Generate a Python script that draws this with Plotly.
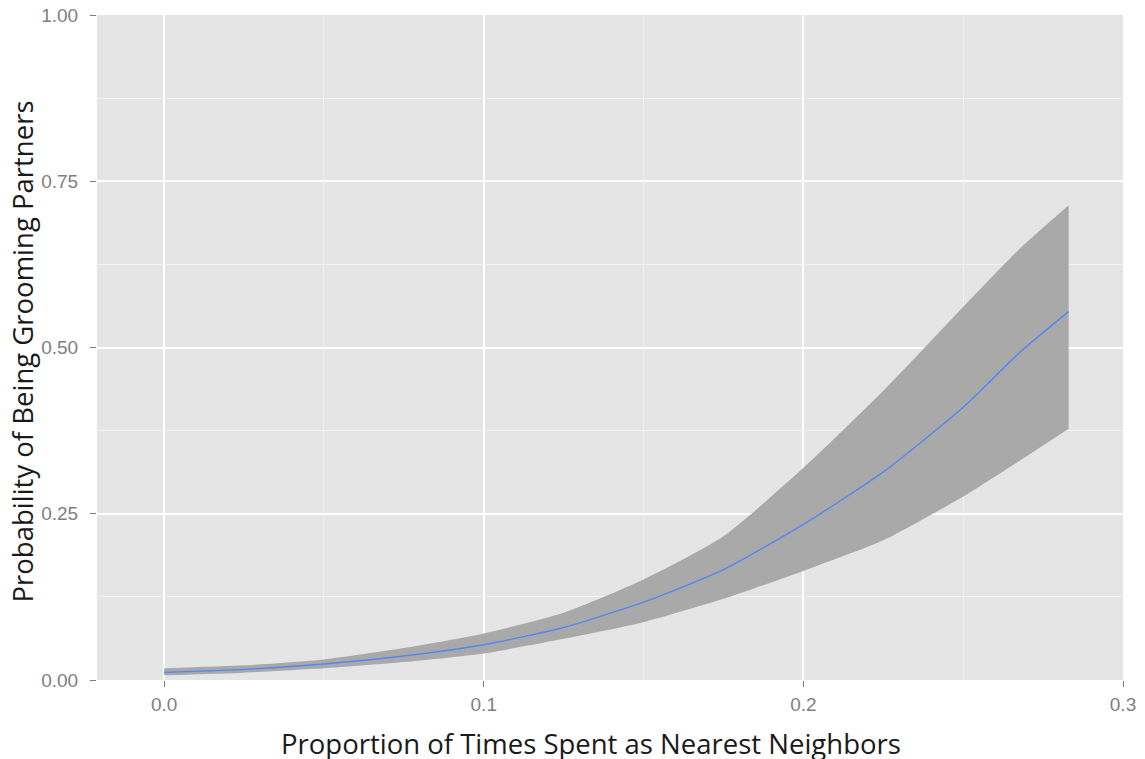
import plotly.graph_objects as go

# Data
prop_nn = [0, 0.025, 0.05, 0.075, 0.1, 0.125, 0.15, 0.175, 0.2, 0.225, 0.25, 0.268, 0.283]
fit = [0.0115, 0.016, 0.024, 0.036, 0.053, 0.079, 0.117, 0.166, 0.234, 0.313, 0.410, 0.494, 0.554]
upper = [0.0175, 0.022, 0.031, 0.048, 0.070, 0.101, 0.151, 0.216, 0.319, 0.435, 0.561, 0.650, 0.714]
lower = [0.007, 0.011, 0.0175, 0.027, 0.040, 0.062, 0.087, 0.122, 0.164, 0.210, 0.276, 0.331, 0.378]

x_ticks = [0.0, 0.1, 0.2, 0.3]
x_ticklabels = ["0.0", "0.1", "0.2", "0.3"]
y_ticks = [0.0, 0.25, 0.5, 0.75, 1.0]
y_ticklabels = ["0.00", "0.25", "0.50", "0.75", "1.00"]

x_title = "Proportion of Times Spent as Nearest Neighbors"
y_title = "Probability of Being Grooming Partners"

fig = go.Figure()
fig.add_trace(go.Scatter(x=prop_nn, y=lower, mode="lines", line=dict(width=0, shape="spline", smoothing=0.6),
                         hoverinfo="skip", showlegend=False))
fig.add_trace(go.Scatter(x=prop_nn, y=upper, mode="lines", line=dict(width=0, shape="spline", smoothing=0.6),
                         fill="tonexty", fillcolor="rgb(169,169,169)", hoverinfo="skip", showlegend=False))
fig.add_trace(go.Scatter(x=prop_nn, y=fit, mode="lines",
                         line=dict(color="rgb(86,134,240)", width=1.4, shape="spline", smoothing=0.6),
                         showlegend=False))

axis_common = dict(
    showgrid=True, gridcolor="white", gridwidth=1.6, zeroline=False, showline=False,
    ticks="outside", ticklen=6, tickwidth=1, tickcolor="#7f7f7f", automargin=False,
    ticklabeloverflow="allow",
    tickfont=dict(family="Liberation Sans, Arial, sans-serif", size=19, color="#808080"),
)

title_font = dict(family="Open Sans, sans-serif", size=27.5, color="#1a1a1a")

# page body has an 8px margin, so the figure is sized and offset to compensate
fig.update_layout(
    width=1137, height=751,
    margin=dict(l=89, r=22, t=7, b=79),
    paper_bgcolor="white", plot_bgcolor="#E5E5E5",
    xaxis=dict(range=[-0.021, 0.3], tickvals=x_ticks, ticktext=x_ticklabels,
               minor=dict(showgrid=True, gridcolor="#F2F2F2", gridwidth=0.8, dtick=0.05, tick0=0),
               ticklabelstandoff=1, **axis_common),
    yaxis=dict(range=[0, 1], tickvals=y_ticks, ticktext=y_ticklabels,
               minor=dict(showgrid=True, gridcolor="#F2F2F2", gridwidth=0.8, dtick=0.125, tick0=0),
               ticklabelstandoff=8, **axis_common),
    annotations=[
        dict(text=x_title, xref="paper", yref="paper", x=0.5, y=0, xanchor="center", yanchor="middle",
             xshift=-19, yshift=-63, showarrow=False, font=title_font),
        dict(text=y_title, xref="paper", yref="paper", x=0, y=0.5, xanchor="center", yanchor="middle",
             xshift=-75, yshift=-4, textangle=-90, showarrow=False, font=title_font),
    ],
)

fig.write_html("out.html")
